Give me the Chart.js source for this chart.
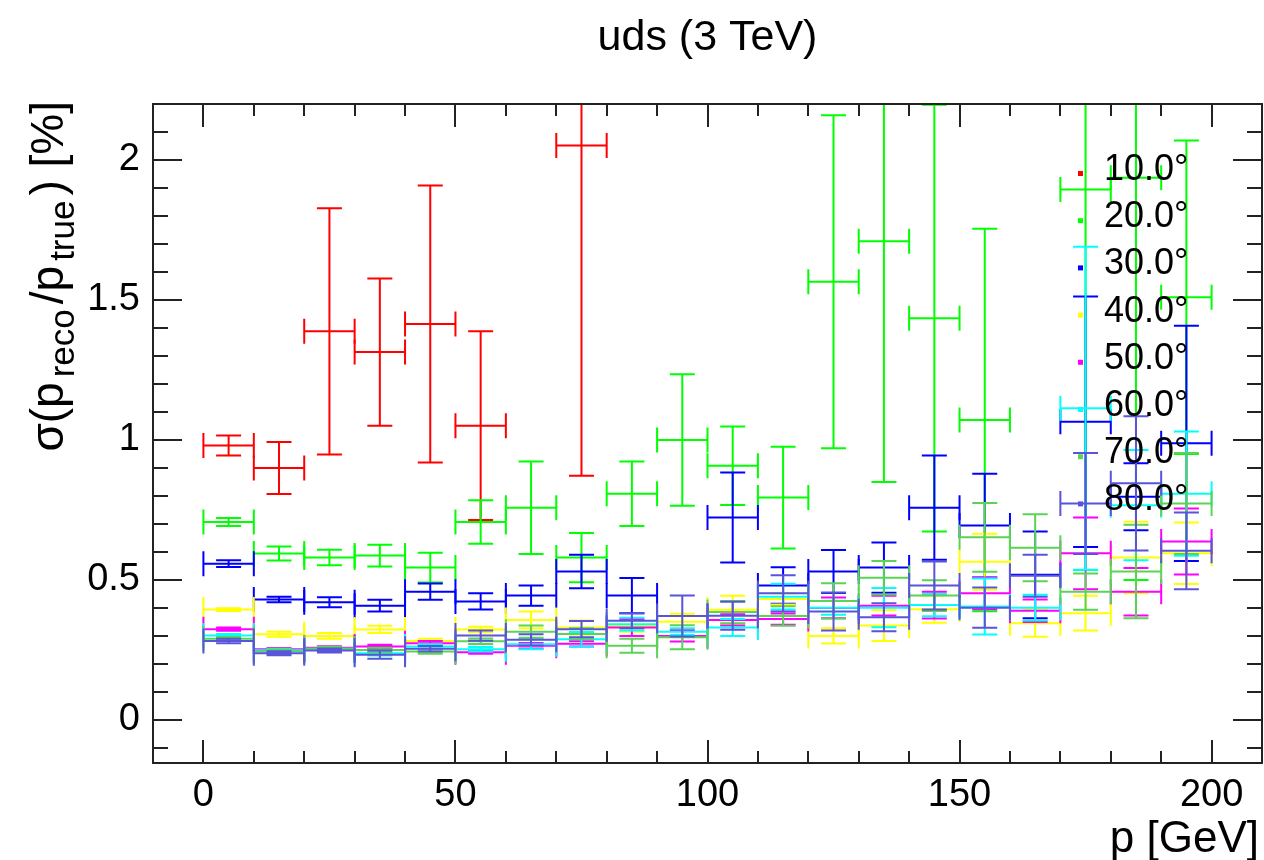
<!DOCTYPE html>
<html>
<head>
<meta charset="utf-8">
<title>uds (3 TeV)</title>
<script src="https://cdn.jsdelivr.net/npm/chart.js@4.4.0/dist/chart.umd.min.js"></script>
<style>
  html, body { margin: 0; padding: 0; background: #fff; }
  #wrap { width: 1264px; height: 860px; }
</style>
</head>
<body>
<div id="wrap"><canvas id="myChart" width="1264" height="860"></canvas></div>
<script>
// momentum bins (centres, GeV), each bin is 10 GeV wide
var pBins = [5, 15, 25, 35, 45, 55, 65, 75, 85, 95, 105, 115, 125, 135, 145, 155, 165, 175, 185, 195];
var pHalfWidth = 5;

var angleLabels = ['10.0°', '20.0°', '30.0°', '40.0°', '50.0°', '60.0°', '70.0°', '80.0°'];
// ROOT palette 2..9
var angleColors = ['#ff0000', '#00ff00', '#0000ff', '#ffff00', '#ff00ff', '#00ffff', '#59d454', '#5954d9'];

// sigma(p_reco/p_true) in % and its error, one pair of arrays per polar angle
var sigma10 = [0.98, 0.90, 1.388, 1.314, 1.414, 1.051, null, 2.052, null, null, null, null, null, null, null, null, null, null, null, null];
var err10   = [0.036, 0.093, 0.44, 0.263, 0.495, 0.337, null, 1.18, null, null, null, null, null, null, null, null, null, null, null, null];

var sigma20 = [0.707, 0.594, 0.58, 0.587, 0.544, 0.707, 0.758, 0.58, 0.808, 1.0, 0.908, 0.794, 1.565, 1.71, 1.435, 1.071, null, 1.895, 1.937, 1.51];
var err20   = [0.014, 0.025, 0.028, 0.039, 0.053, 0.078, 0.165, 0.088, 0.115, 0.235, 0.14, 0.182, 0.595, 0.86, 0.762, 0.683, null, 1.36, 1.437, 0.56];

var sigma30 = [0.558, 0.43, 0.42, 0.408, 0.458, 0.423, 0.444, 0.53, 0.444, null, 0.723, 0.48, 0.53, 0.544, 0.758, 0.694, 0.518, 1.065, 0.797, 0.988];
var err30   = [0.012, 0.01, 0.018, 0.021, 0.029, 0.029, 0.036, 0.06, 0.063, null, 0.161, 0.065, 0.077, 0.09, 0.186, 0.185, 0.155, 0.447, 0.12, 0.42];

var sigma40 = [0.394, 0.306, 0.30, 0.323, 0.282, 0.323, 0.357, 0.33, 0.335, 0.351, 0.393, 0.432, 0.30, 0.337, 0.395, 0.565, 0.345, 0.381, 0.58, 0.595];
var err40   = [0.005, 0.009, 0.01, 0.013, 0.008, 0.01, 0.03, 0.025, 0.02, 0.028, 0.05, 0.02, 0.027, 0.055, 0.048, 0.1, 0.048, 0.062, 0.128, 0.11];

var sigma50 = [0.324, 0.252, 0.258, 0.262, 0.274, 0.242, 0.265, 0.272, 0.33, 0.30, 0.357, 0.36, 0.40, 0.408, 0.41, 0.452, 0.39, 0.595, 0.458, 0.637];
var err50   = [0.006, 0.005, 0.005, 0.006, 0.008, 0.006, 0.01, 0.01, 0.03, 0.02, 0.02, 0.02, 0.037, 0.035, 0.048, 0.057, 0.04, 0.128, 0.085, 0.118];

var sigma60 = [0.301, 0.249, 0.25, 0.238, 0.262, 0.252, 0.27, 0.288, 0.342, 0.315, 0.33, 0.44, 0.401, 0.401, 0.41, 0.405, 0.401, 1.113, 0.767, 0.808];
var err60   = [0.006, 0.005, 0.006, 0.008, 0.008, 0.008, 0.018, 0.026, 0.023, 0.012, 0.03, 0.046, 0.025, 0.07, 0.04, 0.1, 0.046, 0.577, 0.197, 0.222];

var sigma70 = [0.29, 0.245, 0.255, 0.25, 0.244, 0.281, 0.315, 0.307, 0.265, 0.295, 0.385, 0.371, 0.425, 0.508, 0.444, 0.652, 0.615, 0.458, 0.53, 0.773];
var err70   = [0.006, 0.006, 0.006, 0.008, 0.008, 0.01, 0.022, 0.02, 0.025, 0.043, 0.04, 0.035, 0.063, 0.06, 0.055, 0.123, 0.12, 0.065, 0.167, 0.18];

var sigma80 = [0.282, 0.238, 0.248, 0.233, 0.254, 0.301, 0.286, 0.324, 0.354, 0.371, 0.372, 0.452, 0.387, 0.367, 0.48, 0.401, 0.515, 0.773, 0.845, 0.604];
var err80   = [0.008, 0.007, 0.007, 0.015, 0.01, 0.018, 0.02, 0.029, 0.027, 0.073, 0.05, 0.065, 0.068, 0.05, 0.086, 0.072, 0.075, 0.18, 0.24, 0.137];

var xTickLabels = [0, 50, 100, 150, 200];
var yTickLabels = [0, 0.5, 1, 1.5, 2];

var allSigma = [sigma10, sigma20, sigma30, sigma40, sigma50, sigma60, sigma70, sigma80];
var allErr = [err10, err20, err30, err40, err50, err60, err70, err80];

var FONT = '"Liberation Sans", Arial, Helvetica, sans-serif';

var datasets = angleLabels.map(function (label, k) {
    var pts = [];
    var errs = [];
    pBins.forEach(function (p, i) {
        if (allSigma[k][i] === null) return;
        pts.push({ x: p, y: allSigma[k][i] });
        errs.push(allErr[k][i]);
    });
    return {
        label: label,
        data: pts,
        yErr: errs,
        borderColor: angleColors[k],
        backgroundColor: angleColors[k],
        pointRadius: 0,
        showLine: false
    };
});

// histogram-style error bars: x bin width, y error, end caps
var errorBars = {
    id: 'errorBars',
    afterDatasetsDraw: function (chart) {
        var ctx = chart.ctx, xs = chart.scales.x, ys = chart.scales.y, a = chart.chartArea;
        var cap = 12.5;
        ctx.save();
        ctx.beginPath();
        ctx.rect(a.left - 1, a.top - 1, a.right - a.left + 2, a.bottom - a.top + 2);
        ctx.clip();
        ctx.lineWidth = 2;
        chart.data.datasets.forEach(function (ds) {
            ctx.strokeStyle = ds.borderColor;
            ds.data.forEach(function (pt, i) {
                var e = ds.yErr[i];
                var hi = Math.min(ys.max, pt.y + e), lo = Math.max(ys.min, pt.y - e);
                var px = xs.getPixelForValue(pt.x);
                var pl = xs.getPixelForValue(pt.x - pHalfWidth);
                var pr = xs.getPixelForValue(pt.x + pHalfWidth);
                var py = ys.getPixelForValue(pt.y);
                var pt_ = ys.getPixelForValue(hi);
                var pb = ys.getPixelForValue(lo);
                ctx.beginPath();
                ctx.moveTo(pl, py); ctx.lineTo(pr, py);
                ctx.moveTo(pl, py - cap); ctx.lineTo(pl, py + cap);
                ctx.moveTo(pr, py - cap); ctx.lineTo(pr, py + cap);
                ctx.moveTo(px, pt_); ctx.lineTo(px, pb);
                ctx.moveTo(px - cap, pt_); ctx.lineTo(px + cap, pt_);
                ctx.moveTo(px - cap, pb); ctx.lineTo(px + cap, pb);
                ctx.stroke();
            });
        });
        ctx.restore();
    }
};

// frame with inward ticks on all four sides, titles and the legend
var rootFrame = {
    id: 'rootFrame',
    afterDraw: function (chart) {
        var ctx = chart.ctx, xs = chart.scales.x, ys = chart.scales.y, a = chart.chartArea;
        ctx.save();
        ctx.strokeStyle = '#222';
        ctx.lineWidth = 2;
        ctx.strokeRect(a.left, a.top, a.right - a.left, a.bottom - a.top);

        ctx.beginPath();
        for (var v = -10; v <= 210; v += 10) {
            if (v <= xs.min || v >= xs.max) continue;
            var px = Math.round(xs.getPixelForValue(v));
            var len = (v % 50 === 0) ? 23 : 12;
            ctx.moveTo(px, a.bottom); ctx.lineTo(px, a.bottom - len);
            ctx.moveTo(px, a.top); ctx.lineTo(px, a.top + len);
        }
        for (var j = -1; j <= 21; j++) {
            var yv = j / 10;
            if (yv <= ys.min || yv >= ys.max) continue;
            var py = Math.round(ys.getPixelForValue(yv));
            var ylen = (j % 5 === 0) ? 29 : 15;
            ctx.moveTo(a.left, py); ctx.lineTo(a.left + ylen, py);
            ctx.moveTo(a.right, py); ctx.lineTo(a.right - ylen, py);
        }
        ctx.stroke();

        ctx.fillStyle = '#000';
        ctx.textBaseline = 'alphabetic';

        // title
        ctx.font = '43px ' + FONT;
        ctx.textAlign = 'center';
        ctx.fillText('uds (3 TeV)', (a.left + a.right) / 2, 50);

        // x axis title
        ctx.font = '44px ' + FONT;
        ctx.textAlign = 'right';
        ctx.fillText('p [GeV]', 1259, 852);

        // y axis title with subscripts, rotated
        var parts = [['σ(p', 0], ['reco', 1], ['/p', 0], ['true', 1], [') [%]', 0]];
        var big = 46, small = 35, gap = 5;
        var total = 0;
        parts.forEach(function (s) {
            ctx.font = (s[1] ? small : big) + 'px ' + FONT;
            total += ctx.measureText(s[0]).width + (s[1] ? 2 * gap : 0);
        });
        ctx.translate(63, 101 + total);
        ctx.rotate(-Math.PI / 2);
        ctx.textAlign = 'left';
        var cx = 0;
        parts.forEach(function (s) {
            ctx.font = (s[1] ? small : big) + 'px ' + FONT;
            if (s[1]) cx += gap;
            ctx.fillText(s[0], cx, s[1] ? 11 : 0);
            cx += ctx.measureText(s[0]).width + (s[1] ? gap : 0);
        });
        ctx.setTransform(1, 0, 0, 1, 0, 0);

        // legend
        ctx.font = '36px ' + FONT;
        ctx.textAlign = 'left';
        ctx.textBaseline = 'middle';
        chart.data.datasets.forEach(function (ds, k) {
            var ry = 173 + k * 47.2;
            ctx.fillStyle = ds.borderColor;
            ctx.fillRect(1078, ry - 2, 5, 5);
            ctx.fillStyle = '#000';
            ctx.fillText(ds.label, 1104, ry - 3);
        });
        ctx.restore();
    }
};

var ctx = document.getElementById('myChart');
var myChart = new Chart(ctx, {
    type: 'scatter',
    data: { datasets: datasets },
    options: {
        responsive: false,
        animation: false,
        devicePixelRatio: 1,
        layout: { padding: { top: 104, right: 2, left: 0, bottom: 0 } },
        plugins: {
            legend: { display: false },
            tooltip: { enabled: false },
            title: { display: false }
        },
        scales: {
            x: {
                type: 'linear',
                min: -10,
                max: 210,
                afterFit: function (s) { s.height = 97; },
                afterBuildTicks: function (s) { s.ticks = xTickLabels.map(function (v) { return { value: v }; }); },
                grid: { display: false, drawTicks: false },
                border: { display: false },
                ticks: {
                    font: { family: FONT, size: 38 },
                    color: '#000',
                    padding: 10,
                    maxRotation: 0,
                    autoSkip: false,
                    callback: function (v) { return '' + v; }
                }
            },
            y: {
                type: 'linear',
                min: -0.154,
                max: 2.2,
                afterFit: function (s) { s.width = 153; },
                afterBuildTicks: function (s) { s.ticks = yTickLabels.map(function (v) { return { value: v }; }); },
                grid: { display: false, drawTicks: false },
                border: { display: false },
                ticks: {
                    font: { family: FONT, size: 38 },
                    color: '#000',
                    padding: 13,
                    autoSkip: false,
                    callback: function (v) { return '' + v; }
                }
            }
        }
    },
    plugins: [errorBars, rootFrame]
});
</script>
</body>
</html>
